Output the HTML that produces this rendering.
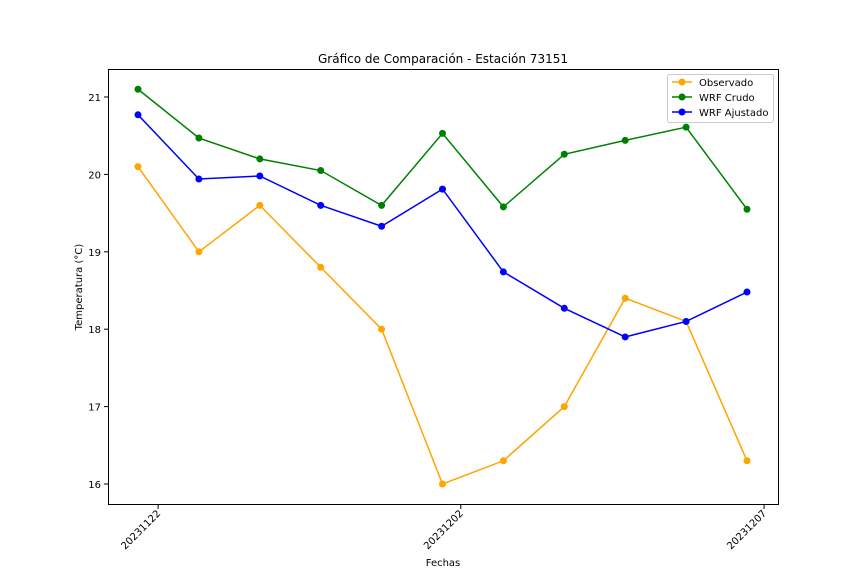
<!DOCTYPE html>
<html><head><meta charset="utf-8"><style>
body{margin:0;background:#fff;font-family:"Liberation Sans","DejaVu Sans",sans-serif}
</style></head><body>
<svg id="chart" width="864" height="576" xmlns="http://www.w3.org/2000/svg" font-family="DejaVu Sans, Liberation Sans, sans-serif">
<rect width="864" height="576" fill="#fff"/>
<text x="443" y="63" text-anchor="middle" font-size="12">Gráfico de Comparación - Estación 73151</text>
<text x="443" y="566" text-anchor="middle" font-size="10">Fechas</text>
<text transform="translate(82,287) rotate(-90)" text-anchor="middle" font-size="10">Temperatura (°C)</text>
<g id="marks"></g>
<rect x="108.5" y="69.5" width="670" height="435" fill="none" stroke="#000" stroke-width="1"/>
<g>
<rect x="667.5" y="74.5" width="106" height="48" fill="#fff" stroke="#ccc" rx="2"/>
<line x1="672" y1="82" x2="692" y2="82" stroke="orange" stroke-width="1.5"/><circle cx="682" cy="82" r="3.5" fill="orange"/>
<text x="699" y="86" font-size="10">Observado</text>
<line x1="672" y1="97" x2="692" y2="97" stroke="green" stroke-width="1.5"/><circle cx="682" cy="97" r="3.5" fill="green"/>
<text x="699" y="101" font-size="10">WRF Crudo</text>
<line x1="672" y1="112" x2="692" y2="112" stroke="blue" stroke-width="1.5"/><circle cx="682" cy="112" r="3.5" fill="blue"/>
<text x="699" y="116" font-size="10">WRF Ajustado</text>
</g>
</svg>
<script>
const observado=[20.1,19.0,19.6,18.8,18.0,16.0,16.3,17.0,18.4,18.1,16.3];
const wrfCrudo=[21.1,20.47,20.2,20.05,19.6,20.53,19.58,20.26,20.44,20.61,19.55];
const wrfAjustado=[20.77,19.94,19.98,19.6,19.33,19.81,18.74,18.27,17.9,18.1,18.48];
const xTickLabels=["20231122","20231202","20231207"];
const xTickIndex=[0.33,5.3,10.28];
const yTicks=[16,17,18,19,20,21];
const NS="http://www.w3.org/2000/svg";
const g=document.getElementById('marks');
const xS=i=>138+i*60.9;
const yS=v=>484-(v-16)*77.4;
function mk(t,a){const e=document.createElementNS(NS,t);for(const k in a)e.setAttribute(k,a[k]);g.appendChild(e);return e;}
yTicks.forEach(v=>{
 const y=yS(v);
 const l=mk('line',{x1:104,x2:108,y1:y,y2:y,stroke:'#000'});
 
 
 const t=mk('text',{x:101,y:y+4,'text-anchor':'end','font-size':10});
 t.textContent=v;
 
 
});
xTickIndex.forEach((p,i)=>{
 const x=xS(p);
 const l=mk('line',{x1:x,x2:x,y1:505,y2:509,stroke:'#000'});
 
 
 const t=mk('text',{x:x+3,y:514,'text-anchor':'end','font-size':10,transform:`rotate(-45 ${x+3} 514)`});
 t.textContent=xTickLabels[i];
 
 
});
[[observado,'orange','observado'],[wrfCrudo,'green','wrf-crudo'],[wrfAjustado,'blue','wrf-ajustado']].forEach(([d,c,n])=>{
 const p=mk('polyline',{points:d.map((v,i)=>xS(i)+','+yS(v)).join(' '),fill:'none',stroke:c,'stroke-width':1.5});
 
 
 d.forEach((v,i)=>{
  const ci=mk('circle',{cx:xS(i),cy:yS(v),r:3.5,fill:c});
  
  
 });
});
</script>
</body></html>
